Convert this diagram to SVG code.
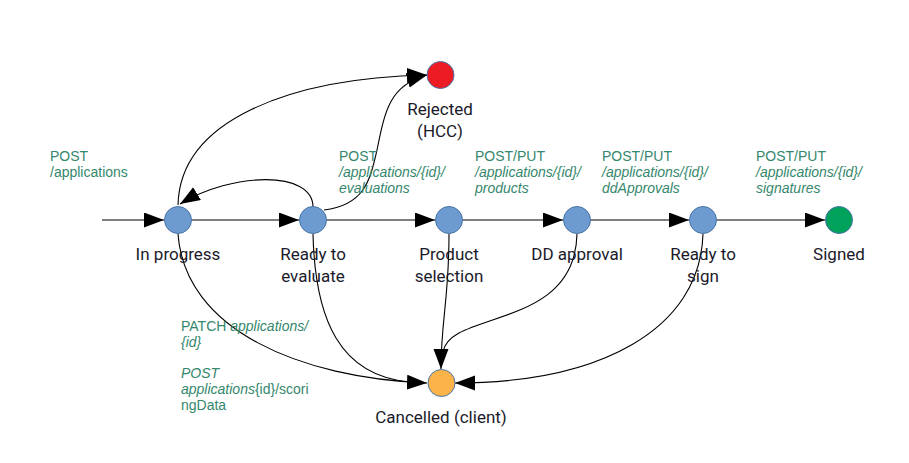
<svg xmlns="http://www.w3.org/2000/svg" width="909" height="463" viewBox="0 0 909 463">
<defs>
<marker id="ah" markerUnits="userSpaceOnUse" markerWidth="22" markerHeight="16" refX="20" refY="7.5" orient="auto"><path d="M0,0 L20,7.5 L0,15 z" fill="#000"/></marker>
<style>
.node{stroke:#4a74a8;stroke-width:1}
.blue{fill:#6d9bd0}
.lbl{font-family:Roboto,"Liberation Sans",sans-serif;font-size:17px;fill:#1a1a2a;text-anchor:middle}
.api{font-family:"Liberation Sans",Arial,sans-serif;font-size:14px;fill:#35876d}
.it{font-style:italic}
.c{fill:none;stroke:#000;stroke-width:1.1}
.a{marker-end:url(#ah)}
</style>
</defs>
<rect width="909" height="463" fill="#fff"/>
<g id="connectors">
<path class="c a" d="M102,220 L164,220"/>
<path class="c a" d="M192,220 L299,220"/>
<path class="c a" d="M327,220 L435,220"/>
<path class="c a" d="M463,220 L563,220"/>
<path class="c a" d="M591,220 L689,220"/>
<path class="c a" d="M717,220 L825,220"/>
<path class="c a" d="M313,207 C313,170 232,172 180,204"/>
<path class="c a" d="M178,205 C180,120 290,78 427,75"/>
<path class="c a" d="M324,210 C365,205 370,180 377,150 C385,110 390,85 427,75"/>
<path class="c a" d="M178,234 C185,330 300,378 427,383"/>
<path class="c" d="M313,234 C315,320 340,376 410,382"/>
<path class="c a" d="M449,234 C449,300 441,320 441,369"/>
<path class="c" d="M577,234 C575,330 450,310 443,352"/>
<path class="c a" d="M703,234 C700,330 600,383 455,383"/>
</g>
<g id="n-inprogress"><circle class="node blue" cx="178" cy="220" r="13.5"/><text class="lbl" x="178" y="260">In progress</text></g>
<g id="n-readyeval"><circle class="node blue" cx="313" cy="220" r="13.5"/><text class="lbl" x="313" y="260">Ready to</text><text class="lbl" x="313" y="282">evaluate</text></g>
<g id="n-product"><circle class="node blue" cx="449" cy="220" r="13.5"/><text class="lbl" x="449" y="260">Product</text><text class="lbl" x="449" y="282">selection</text></g>
<g id="n-dd"><circle class="node blue" cx="577" cy="220" r="13.5"/><text class="lbl" x="577" y="260">DD approval</text></g>
<g id="n-readysign"><circle class="node blue" cx="703" cy="220" r="13.5"/><text class="lbl" x="703" y="260">Ready to</text><text class="lbl" x="703" y="282">sign</text></g>
<g id="n-signed"><circle class="node" cx="839" cy="220" r="13.5" fill="#00a15a"/><text class="lbl" x="839" y="260">Signed</text></g>
<g id="n-rejected"><circle class="node" cx="440.5" cy="75" r="13.5" fill="#ed1c24"/><text class="lbl" x="440" y="115">Rejected</text><text class="lbl" x="440" y="137">(HCC)</text></g>
<g id="n-cancelled"><circle class="node" cx="441.5" cy="383" r="13.5" fill="#fbb34a"/><text class="lbl" x="441" y="423">Cancelled (client)</text></g>
<g id="labels">
<text class="api" x="50" y="161">POST</text>
<text class="api" x="50" y="177">/applications</text>
<text class="api" x="339" y="161">POST</text>
<text class="api it" x="339" y="177">/applications/{id}/</text>
<text class="api it" x="339" y="193">evaluations</text>
<text class="api" x="475" y="161">POST/PUT</text>
<text class="api it" x="475" y="177">/applications/{id}/</text>
<text class="api it" x="475" y="193">products</text>
<text class="api" x="602" y="161">POST/PUT</text>
<text class="api it" x="602" y="177">/applications/{id}/</text>
<text class="api it" x="602" y="193">ddApprovals</text>
<text class="api" x="756" y="161">POST/PUT</text>
<text class="api it" x="756" y="177">/applications/{id}/</text>
<text class="api it" x="756" y="193">signatures</text>
<text class="api" x="181" y="331">PATCH <tspan class="it">applications/</tspan></text>
<text class="api it" x="181" y="347">{id}</text>
<text class="api it" x="181" y="378">POST</text>
<text class="api" x="181" y="394"><tspan class="it">applications</tspan>{id}/scori</text>
<text class="api" x="181" y="410">ngData</text>
</g>
</svg>
